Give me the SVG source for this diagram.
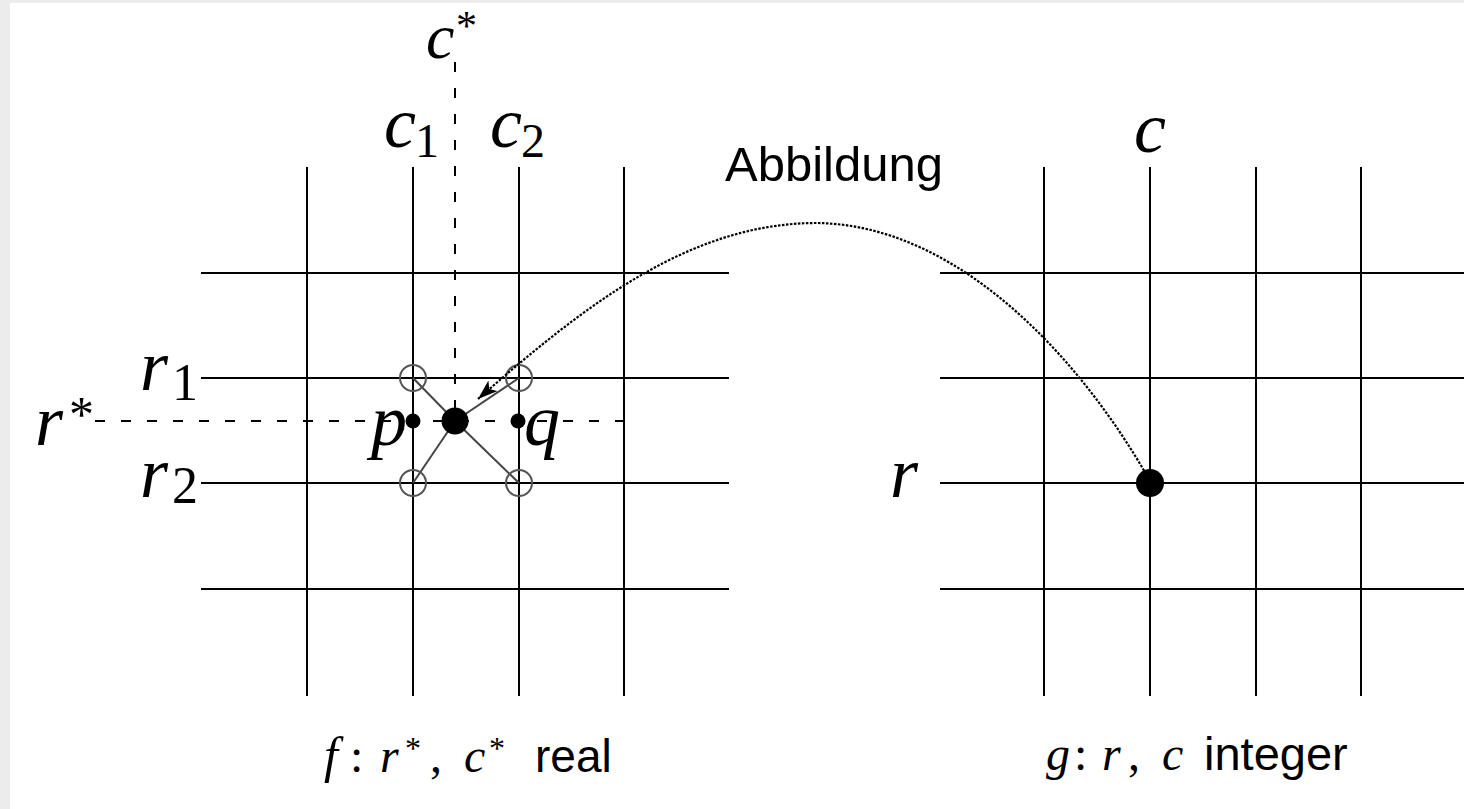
<svg xmlns="http://www.w3.org/2000/svg" width="1464" height="809" viewBox="0 0 1464 809">
<defs>
<style>
.grid line{stroke:#000;stroke-width:2}
.dash{stroke:#000;stroke-width:2;stroke-dasharray:10 16;fill:none}
.cross{stroke:#444;stroke-width:2}
.open{fill:none;stroke:#555;stroke-width:2}
.m{font-family:"Liberation Serif",serif;font-style:italic;fill:#000}
.n{font-family:"Liberation Serif",serif;fill:#000}
.s{font-family:"Liberation Sans",sans-serif;fill:#000}
.curve{fill:none;stroke:#000;stroke-width:2.2;stroke-dasharray:2.5 1.5}
</style>
<marker id="arr" markerWidth="20" markerHeight="14" refX="20" refY="7" orient="auto" markerUnits="userSpaceOnUse">
<path d="M0,0 L20,7 L0,14 L5,7 z" fill="#000"/>
</marker>
</defs>
<rect x="0" y="0" width="1464" height="809" fill="#ececec"/>
<rect x="10" y="3" width="1454" height="806" fill="#fff"/>

<g id="grid-f" class="grid">
<line x1="307" y1="167" x2="307" y2="696"/>
<line x1="413" y1="167" x2="413" y2="696"/>
<line x1="519" y1="167" x2="519" y2="696"/>
<line x1="624" y1="167" x2="624" y2="696"/>
<line x1="201" y1="273" x2="729" y2="273"/>
<line x1="201" y1="378" x2="729" y2="378"/>
<line x1="201" y1="483" x2="729" y2="483"/>
<line x1="201" y1="589" x2="729" y2="589"/>
</g>

<g id="grid-g" class="grid">
<line x1="1044" y1="167" x2="1044" y2="696"/>
<line x1="1150" y1="167" x2="1150" y2="696"/>
<line x1="1256" y1="167" x2="1256" y2="696"/>
<line x1="1361" y1="167" x2="1361" y2="696"/>
<line x1="940" y1="273" x2="1464" y2="273"/>
<line x1="940" y1="378" x2="1464" y2="378"/>
<line x1="940" y1="483" x2="1464" y2="483"/>
<line x1="940" y1="589" x2="1464" y2="589"/>
</g>

<g id="guides">
<line class="dash" x1="455" y1="62" x2="455" y2="421"/>
<line class="dash" x1="95" y1="421" x2="624" y2="421"/>
</g>

<g id="neighbours">
<line class="cross" x1="413" y1="378" x2="455" y2="421"/>
<line class="cross" x1="519" y1="378" x2="455" y2="421"/>
<line class="cross" x1="413" y1="483" x2="455" y2="421"/>
<line class="cross" x1="519" y1="483" x2="455" y2="421"/>
<circle class="open" cx="413" cy="378" r="13"/>
<circle class="open" cx="519" cy="378" r="13"/>
<circle class="open" cx="413" cy="483" r="13"/>
<circle class="open" cx="519" cy="483" r="13"/>
</g>

<g id="point-p"><circle cx="413" cy="421" r="7.5" fill="#000"/><text class="m" x="371" y="445" font-size="72">p</text></g>
<g id="point-q"><circle cx="518" cy="421" r="7.5" fill="#000"/><text class="m" x="524" y="445" font-size="72">q</text></g>
<g id="point-real"><circle cx="455" cy="421" r="13.5" fill="#000"/></g>
<g id="point-int"><circle cx="1150" cy="483" r="14" fill="#000"/></g>

<g id="connectors">
<path class="curve" d="M 1146,474 C 1080,360 960,225 817,223 C 690,223 585,305 478,399" marker-end="url(#arr)"/>
</g>

<g id="labels-f">
<text class="m" x="426" y="58" font-size="64">c</text><text class="n" x="456" y="40" font-size="42">*</text>
<text class="m" x="384" y="147" font-size="72">c</text><text class="n" x="415" y="157" font-size="48">1</text>
<text class="m" x="490" y="147" font-size="72">c</text><text class="n" x="521" y="157" font-size="48">2</text>
<text class="m" x="140" y="390" font-size="72">r</text><text class="n" x="172" y="400" font-size="52">1</text>
<text class="m" x="35" y="445" font-size="72">r</text><text class="n" x="69" y="431" font-size="50">*</text>
<text class="m" x="140" y="497" font-size="72">r</text><text class="n" x="172" y="503" font-size="52">2</text>
</g>

<g id="labels-g">
<text class="m" x="1134" y="152" font-size="72">c</text>
<text class="m" x="890" y="497" font-size="72">r</text>
</g>

<g id="label-map"><text class="s" x="725" y="181" font-size="49">Abbildung</text></g>

<g id="caption-f">
<text class="m" x="324" y="772" font-size="50">f</text>
<text class="n" x="350" y="772" font-size="48">:</text>
<text class="m" x="380" y="772" font-size="48">r</text>
<text class="n" x="405" y="759" font-size="32">*</text>
<text class="n" x="430" y="772" font-size="48">,</text>
<text class="m" x="464" y="772" font-size="48">c</text>
<text class="n" x="489" y="759" font-size="32">*</text>
<text class="s" x="535" y="772" font-size="46">real</text>
</g>

<g id="caption-g">
<text class="m" x="1046" y="770" font-size="48">g</text>
<text class="n" x="1074" y="770" font-size="48">:</text>
<text class="m" x="1102" y="770" font-size="48">r</text>
<text class="n" x="1128" y="770" font-size="48">,</text>
<text class="m" x="1162" y="770" font-size="48">c</text>
<text class="s" x="1204" y="770" font-size="47">integer</text>
</g>
</svg>
